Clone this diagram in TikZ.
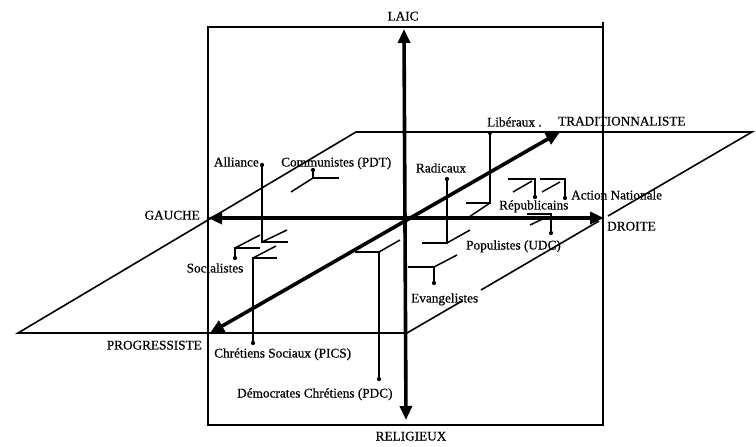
\documentclass[tikz,border=0pt]{standalone}
\usepackage{fontspec}
\setmainfont{Liberation Serif}[FakeBold=0.6]
\usetikzlibrary{arrows.meta}
\begin{document}
\begin{tikzpicture}[x=1bp,y=-1bp,
  frame/.style={line width=1.6bp},
  axis/.style={line width=3.6bp,{Triangle[length=14bp,width=12bp]}-{Triangle[length=14bp,width=12bp]}},
  foot/.style={line width=1.5bp},
  lbl/.style={inner sep=0pt,font=\fontsize{13.3}{15}\selectfont,text height=9bp,text depth=0pt},
  dot/.style={circle,fill,inner sep=0pt,minimum size=4.2bp}]
\useasboundingbox (0,0) rectangle (756,447);
% vertical rectangle
\coordinate (rTL) at (208,27);
\coordinate (rTR) at (603,27);
\coordinate (rTRx) at (603,22);
\coordinate (rBL) at (208,425);
\coordinate (rBR) at (603,425);
\draw[frame] (rTRx) -- (rBR) -- (rBL) -- (rTL) -- (rTR);
% horizontal plane
\coordinate (pBL) at (18,333);
\coordinate (pBR) at (407,333);
\coordinate (pTR) at (752,132);
\coordinate (pTL) at (356,132);
\coordinate (pR1) at (462,301);
\coordinate (pR2) at (481,290);
\coordinate (pR3) at (599,221);
\coordinate (pR4) at (608,216);
\draw[frame] (pR1) -- (pBR) -- (pBL) -- (pTL) -- (pTR) -- (pR4);
\draw[frame] (pR2) -- (pR3);
% axes
\coordinate (aTop) at (404,29);
\coordinate (aBot) at (406,420);
\coordinate (aL) at (208,218);
\coordinate (aR) at (604,218);
\coordinate (aF) at (210,333);
\coordinate (aB) at (560,132);
\draw[axis] (aBot) -- (aTop);
\draw[axis] (aL) -- (aR);
\draw[axis] (aF) -- (aB);
% axis labels
\node[lbl] (laic) at (403,16) {LAIC};
\node[lbl] (relig) at (411,436) {RELIGIEUX};
\node[lbl,anchor=east] (gauche) at (200,215) {GAUCHE};
\node[lbl,anchor=west] (droite) at (607,226) {DROITE};
\node[lbl,anchor=west] (trad) at (558,121) {TRADITIONNALISTE};
\node[lbl,anchor=east] (prog) at (202,345) {PROGRESSISTE};
% Alliance
\node[dot] (dAll) at (262,165) {};
\coordinate (fAll) at (262,242);
\coordinate (hAll) at (288,242);
\coordinate (gAll) at (287,230);
\draw[foot] (dAll.center) -- (fAll) -- (hAll);
\draw[foot] (fAll) -- (gAll);
\node[lbl,anchor=east] (tAll) at (259,162) {Alliance};
% Communistes
\node[dot] (dCom) at (313,170) {};
\coordinate (fCom) at (313,178);
\coordinate (hCom) at (339,178);
\coordinate (gCom) at (291,192);
\draw[foot] (dCom.center) -- (fCom) -- (hCom);
\draw[foot] (fCom) -- (gCom);
\node[lbl,anchor=west] (tCom) at (281,162) {Communistes (PDT)};
% Socialistes
\node[dot] (dSoc) at (235,258) {};
\coordinate (fSoc) at (235,248);
\coordinate (hSoc) at (260,248);
\coordinate (gSoc) at (260,235);
\draw[foot] (dSoc.center) -- (fSoc) -- (hSoc);
\draw[foot] (fSoc) -- (gSoc);
\node[lbl] (tSoc) at (215,268) {Socialistes};
% Chretiens sociaux
\node[dot] (dCS) at (253,343) {};
\coordinate (fCS) at (253,258);
\coordinate (hCS) at (277,258);
\coordinate (gCS) at (276,246);
\draw[foot] (dCS.center) -- (fCS) -- (hCS);
\draw[foot] (fCS) -- (gCS);
\node[lbl,anchor=west] (tCS) at (214,353) {Chrétiens Sociaux (PICS)};
% Democrates chretiens
\node[dot] (dDC) at (379,379) {};
\coordinate (fDC) at (379,252);
\coordinate (hDC) at (355,252);
\coordinate (gDC) at (400,240);
\draw[foot] (dDC.center) -- (fDC) -- (hDC);
\draw[foot] (fDC) -- (gDC);
\node[lbl,anchor=west] (tDC) at (237,393) {Démocrates Chrétiens (PDC)};
% Evangelistes
\node[dot] (dEv) at (434,283) {};
\coordinate (fEv) at (434,267);
\coordinate (hEv) at (408,267);
\coordinate (gEv) at (457,255);
\draw[foot] (dEv.center) -- (fEv) -- (hEv);
\draw[foot] (fEv) -- (gEv);
\node[lbl,anchor=west] (tEv) at (411,298) {Evangelistes};
% Radicaux
\node[dot] (dRad) at (447,179) {};
\coordinate (fRad) at (447,243);
\coordinate (hRad) at (422,243);
\coordinate (gRad) at (470,230);
\draw[foot] (dRad.center) -- (fRad) -- (hRad);
\draw[foot] (fRad) -- (gRad);
\node[lbl] (tRad) at (441,168) {Radicaux};
% Liberaux
\node[dot] (dLib) at (490,133) {};
\coordinate (fLib) at (490,203);
\coordinate (hLib) at (466,203);
\coordinate (gLib) at (469,217);
\draw[foot] (dLib.center) -- (fLib) -- (hLib);
\draw[foot] (fLib) -- (gLib);
\node[lbl,anchor=west] (tLib) at (487,122) {Libéraux .};
% Republicains
\node[dot] (dRep) at (535,197) {};
\coordinate (fRep) at (535,179);
\coordinate (hRep) at (508,179);
\coordinate (gRepA) at (513,192);
\coordinate (gRepB) at (532,181);
\draw[foot] (dRep.center) -- (fRep) -- (hRep);
\draw[foot] (gRepA) -- (gRepB);
\node[lbl,anchor=west] (tRep) at (499,205) {Républicains};
% Action nationale
\node[dot] (dAN) at (565,198) {};
\coordinate (fAN) at (565,179);
\coordinate (hAN) at (540,179);
\coordinate (gANA) at (542,192);
\coordinate (gANB) at (560,182);
\draw[foot] (dAN.center) -- (fAN) -- (hAN);
\draw[foot] (gANA) -- (gANB);
\node[lbl,anchor=west] (tAN) at (571,195) {Action Nationale};
% Populistes
\node[dot] (dPop) at (551,233) {};
\coordinate (fPop) at (551,214);
\coordinate (hPop) at (527,214);
\coordinate (gPopA) at (530,225);
\coordinate (gPopB) at (547,217);
\draw[foot] (dPop.center) -- (fPop) -- (hPop);
\draw[foot] (gPopA) -- (gPopB);
\node[lbl,anchor=west] (tPop) at (466,245) {Populistes (UDC)};
\end{tikzpicture}
\end{document}
